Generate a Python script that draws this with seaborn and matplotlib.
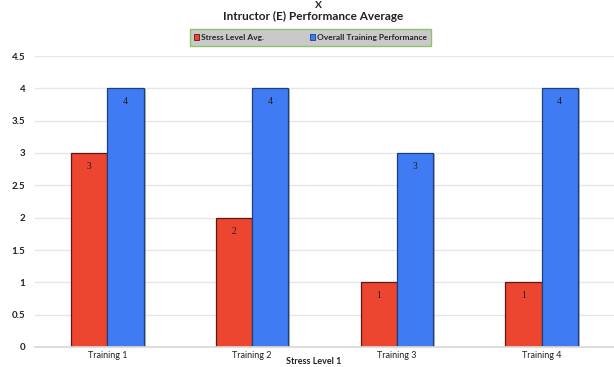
import matplotlib
matplotlib.use("Agg")
import matplotlib.pyplot as plt
import matplotlib.patheffects as pe
from matplotlib.patches import Patch
import seaborn as sns
import pandas as pd

# Chart data
trainings = ["Training 1", "Training 2", "Training 3", "Training 4"]
stress_level_avg = [3, 2, 1, 1]
overall_performance = [4, 4, 3, 4]
series_names = ["Stress Level Avg.", "Overall Training Performance"]
y_ticks = [0, 0.5, 1, 1.5, 2, 2.5, 3, 3.5, 4, 4.5]
y_tick_labels = ["0", "0.5", "1", "1.5", "2", "2.5", "3", "3.5", "4", "4.5"]

df = pd.DataFrame({
    "Training": trainings * 2,
    "Series": [series_names[0]] * len(trainings) + [series_names[1]] * len(trainings),
    "Value": stress_level_avg + overall_performance,
})

sns.set_theme(style="white")
plt.rcParams["font.family"] = ["Lato", "DejaVu Sans"]

W, H = 614, 367
fig = plt.figure(figsize=(W / 100, H / 100), dpi=100)
ax = fig.add_axes([35 / W, 1 - 347 / H, 1 - 35 / W, (347 - 56) / H])

palette = {series_names[0]: "#ec4530", series_names[1]: "#3f7cf4"}
edges = {series_names[0]: "#5a1a12", series_names[1]: "#1c3f80"}

sns.barplot(data=df, x="Training", y="Value", hue="Series", palette=palette,
            width=0.5, gap=0, ax=ax, legend=False, saturation=1)

# Bar edges, drop shadow and value labels
for container, name in zip(ax.containers, series_names):
    for bar in container:
        bar.set_edgecolor(edges[name])
        bar.set_linewidth(0.9)
        bar.set_path_effects([pe.SimplePatchShadow(offset=(1.5, -0.5), shadow_rgbFace="#888888", alpha=0.6),
                              pe.Normal()])
    ax.bar_label(container, labels=[f"{v:g}" for v in container.datavalues],
                 padding=-13, fontsize=7, color="#2a1a1a", family="Liberation Serif")

ax.set_xlim(-0.5, 3.5)
ax.set_ylim(0, 4.5)
ax.set_yticks(y_ticks)
ax.set_yticklabels(y_tick_labels, fontsize=7, fontweight="bold", color="#222222")
ax.tick_params(axis="y", length=0, pad=7)
ax.tick_params(axis="x", length=0, pad=3, labelsize=6.5)
for lbl in ax.get_xticklabels():
    lbl.set_color("#222222")
ax.yaxis.grid(True, color="#e6e6e6", linewidth=1)
ax.set_axisbelow(True)
for side in ["top", "right", "left"]:
    ax.spines[side].set_visible(False)
ax.spines["bottom"].set_color("#d9d9d9")
ax.set_ylabel("")
ax.set_xlabel("")

# Axis title along the bottom edge
fig.text(314 / W, 1 / H, "Stress Level 1", ha="center", va="bottom",
         fontsize=6.5, fontweight="bold", color="#222222")

# Titles
fig.text(318 / W, 1 - 5 / H, "X", ha="center", va="center",
         fontsize=7.5, fontweight="bold")
fig.text(313 / W, 1 - 16 / H, "Intructor (E) Performance Average",
         ha="center", va="center", fontsize=8.5, fontweight="bold", color="#222222")

# Legend box
handles = [Patch(facecolor=palette[n], edgecolor=edges[n], linewidth=0.6) for n in series_names]
leg = fig.legend(handles, series_names, loc="center", bbox_to_anchor=(310.5 / W, 1 - 37.5 / H),
                 ncol=2, frameon=True, fancybox=False, handlelength=0.6,
                 handleheight=0.6, handletextpad=0.2, columnspacing=5.5,
                 borderpad=0.55, borderaxespad=0, prop={"weight": "bold", "size": 6})
frame = leg.get_frame()
frame.set_facecolor("#c9c9c9")
frame.set_edgecolor("#8cc46e")
frame.set_linewidth(1)
frame.set_alpha(1)

fig.savefig("out.png", dpi=100)
